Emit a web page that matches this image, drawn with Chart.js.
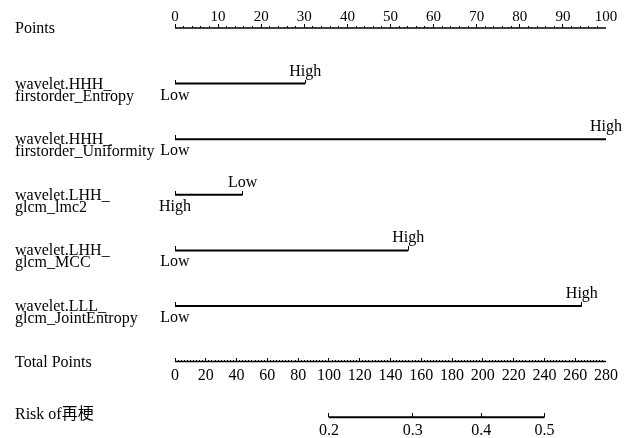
<!DOCTYPE html>
<html>
<head>
<meta charset="utf-8">
<script src="https://cdn.jsdelivr.net/npm/chart.js@4"></script>
<style>
  body { margin: 0; background: #fff; }
  #wrap { width: 628px; height: 438px; }
</style>
</head>
<body>
<div id="wrap"><canvas id="nomo"></canvas></div>
<script>
"use strict";

// predictors, top to bottom
const rowLabels = [
    ['wavelet.HHH_', 'firstorder_Entropy'],
    ['wavelet.HHH_', 'firstorder_Uniformity'],
    ['wavelet.LHH_', 'glcm_lmc2'],
    ['wavelet.LHH_', 'glcm_MCC'],
    ['wavelet.LLL_', 'glcm_JointEntropy']
];
const leftLabels = ['Low', 'Low', 'High', 'Low', 'Low'];
const rightLabels = ['High', 'High', 'Low', 'High', 'High'];
const maxPoints = [30.2, 100, 15.7, 54.1, 94.4];

// axes
const pointTicks = [0, 10, 20, 30, 40, 50, 60, 70, 80, 90, 100];
const pointMinor = 2;
const totalTicks = [0, 20, 40, 60, 80, 100, 120, 140, 160, 180, 200, 220, 240, 260, 280];
const totalMinor = 2;
const riskTicks = ['0.2', '0.3', '0.4', '0.5'];
const riskPos = [100, 154.5, 199, 240]; // on total points scale

const serif = '"Liberation Serif", "Times New Roman", "Noto Sans CJK SC", serif';

function tickImg(len) {
    const c = document.createElement('canvas');
    c.width = 1;
    c.height = len * 2;
    const g = c.getContext('2d');
    g.fillStyle = '#000';
    g.fillRect(0, 0, 1, len);
    return c;
}
const tickMajor = tickImg(4);
const tickSmall = tickImg(2);
const tickEnd = tickImg(4);

function range(max, step) {
    const out = [];
    for (let v = 0; v <= max + 1e-9; v += step) out.push(+v.toFixed(4));
    return out;
}

const datasets = [];

// points axis (row 0)
datasets.push({
    data: range(100, pointMinor).map(v => ({x: v, y: 0})),
    xAxisID: 'x',
    pointStyle: ctx => (ctx.raw && ctx.raw.x % 10 === 0) ? tickMajor : tickSmall,
    borderWidth: 1.5
});

// predictor segments
maxPoints.forEach((p, i) => {
    datasets.push({
        data: [{x: 0, y: i + 1}, {x: p, y: i + 1}],
        xAxisID: 'x',
        pointStyle: tickEnd,
        borderWidth: 2
    });
});

// total points
datasets.push({
    data: range(280, totalMinor).map(v => ({x: v, y: 6})),
    xAxisID: 'xt',
    pointStyle: ctx => (ctx.raw && ctx.raw.x % 20 === 0) ? tickMajor : tickSmall,
    borderWidth: 1.5
});

// risk
datasets.push({
    data: riskPos.map(v => ({x: v, y: 7})),
    xAxisID: 'xt',
    pointStyle: tickMajor,
    borderWidth: 2
});

datasets.forEach(d => {
    d.showLine = true;
    d.borderColor = '#000';
    d.backgroundColor = '#000';
    d.pointRadius = 4;
    d.borderCapStyle = 'butt';
});

const textPlugin = {
    id: 'nomoText',
    afterDraw(chart) {
        const ctx = chart.ctx;
        const x = chart.scales.x;
        const xt = chart.scales.xt;
        const y = chart.scales.y;
        ctx.save();
        ctx.fillStyle = '#000';
        ctx.textBaseline = 'alphabetic';

        // left labels
        ctx.textAlign = 'left';
        ctx.font = '16px ' + serif;
        ctx.fillText('Points', 15, y.getPixelForValue(0) + 5);
        rowLabels.forEach((lines, i) => {
            const py = y.getPixelForValue(i + 1);
            ctx.fillText(lines[0], 15, py + 5);
            ctx.fillText(lines[1], 15, py + 17);
        });
        ctx.fillText('Total Points', 15, y.getPixelForValue(6) + 5);
        ctx.fillText('Risk of再梗', 15, y.getPixelForValue(7) + 2);

        // low / high
        ctx.textAlign = 'center';
        maxPoints.forEach((p, i) => {
            const py = y.getPixelForValue(i + 1);
            ctx.fillText(leftLabels[i], x.getPixelForValue(0), py + 16);
            ctx.fillText(rightLabels[i], x.getPixelForValue(p), py - 8);
        });

        // tick labels
        ctx.font = '15px ' + serif;
        pointTicks.forEach(v => {
            ctx.fillText(String(v), x.getPixelForValue(v), y.getPixelForValue(0) - 7);
        });
        ctx.font = '16px ' + serif;
        totalTicks.forEach(v => {
            ctx.fillText(String(v), xt.getPixelForValue(v), y.getPixelForValue(6) + 18);
        });
        riskTicks.forEach((t, i) => {
            ctx.fillText(t, xt.getPixelForValue(riskPos[i]), y.getPixelForValue(7) + 18);
        });
        ctx.restore();
    }
};

const rowGap = 55.6;
const firstRow = 28;

new Chart(document.getElementById('nomo'), {
    type: 'scatter',
    data: {datasets: datasets},
    options: {
        responsive: true,
        maintainAspectRatio: false,
        animation: false,
        layout: {autoPadding: false, padding: {left: 175, right: 22, top: 0, bottom: 0}},
        plugins: {
            legend: {display: false},
            tooltip: {enabled: false}
        },
        scales: {
            x: {type: 'linear', min: 0, max: 100, display: false},
            xt: {type: 'linear', axis: 'x', min: 0, max: 280, display: false},
            y: {
                type: 'linear',
                reverse: true,
                min: -firstRow / rowGap,
                max: (438 - firstRow) / rowGap,
                display: false
            }
        }
    },
    plugins: [textPlugin]
});
</script>
</body>
</html>
